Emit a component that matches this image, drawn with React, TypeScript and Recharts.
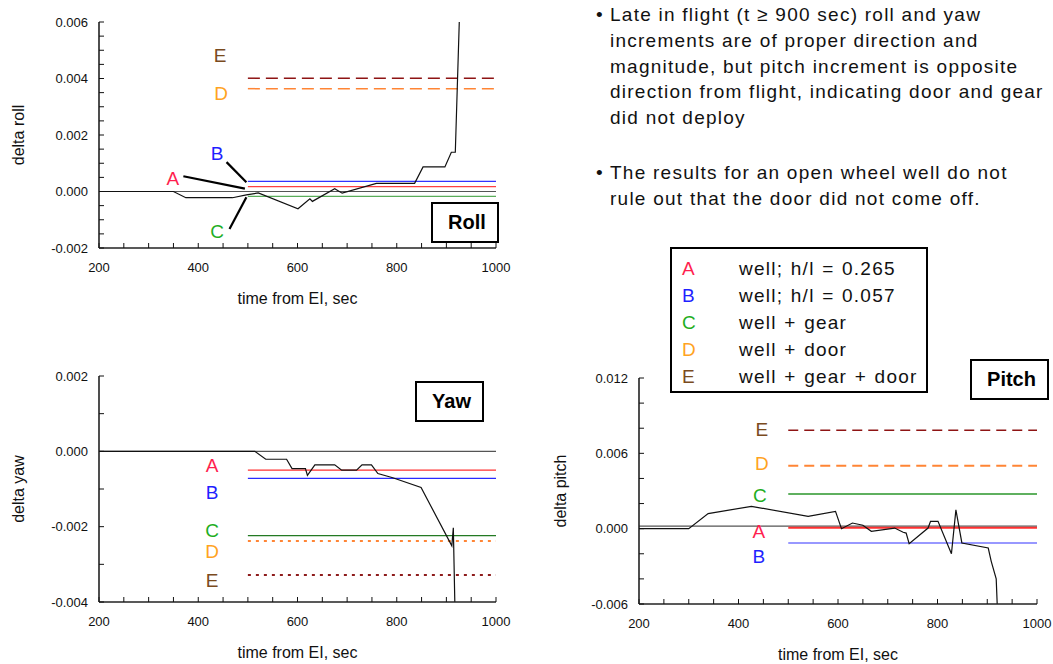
import React from 'react'
import { LineChart, Line, XAxis, YAxis, ReferenceLine, ReferenceDot, Label } from 'recharts'

const FONT = '"Liberation Sans", Arial, Helvetica, sans-serif'

// shared time axis: tick every 50 s, label every 200 s
const timeTicks = [200, 250, 300, 350, 400, 450, 500, 550, 600, 650, 700, 750, 800, 850, 900, 950, 1000]
const timeLabels = [200, 400, 600, 800, 1000]

// ---- roll ----
const rollTicks = [-0.002, -0.0015, -0.001, -0.0005, 0, 0.0005, 0.001, 0.0015, 0.002, 0.0025, 0.003, 0.0035, 0.004, 0.0045, 0.005, 0.0055, 0.006]
const rollLabels = [-0.002, 0, 0.002, 0.004, 0.006]
const rollFlight = [
  { x: 200, y: 0 }, { x: 350, y: 0 }, { x: 375, y: -0.00022 }, { x: 469, y: -0.00022 },
  { x: 497, y: -0.00012 }, { x: 521, y: -0.00005 }, { x: 601, y: -0.00061 }, { x: 625, y: -0.00026 },
  { x: 630, y: -0.00035 }, { x: 675, y: 0.0001 }, { x: 690, y: -0.00006 }, { x: 759, y: 0.00029 },
  { x: 836, y: 0.00029 }, { x: 853, y: 0.00087 }, { x: 897, y: 0.00087 }, { x: 910, y: 0.00139 },
  { x: 918, y: 0.00139 }, { x: 926, y: 0.006 },
]
const rollCases = [
  { key: 'A', y: 0.00017 }, { key: 'B', y: 0.00036 }, { key: 'C', y: -0.00017 },
  { key: 'D', y: 0.00364 }, { key: 'E', y: 0.00401 },
]
const rollLetters = [
  { key: 'E', x: 444, y: 0.00481 }, { key: 'D', x: 446, y: 0.00347 }, { key: 'B', x: 438, y: 0.00135 },
  { key: 'A', x: 349, y: 0.00046 }, { key: 'C', x: 438, y: -0.00142 },
]
const rollLeaders = [
  { from: { x: 457, y: 0.00104 }, to: { x: 497, y: 0.00033 } },
  { from: { x: 370, y: 0.00054 }, to: { x: 494, y: 0.0001 } },
  { from: { x: 463, y: -0.00133 }, to: { x: 497, y: -0.0002 } },
]

// ---- yaw ----
const yawTicks = [-0.004, -0.003, -0.002, -0.001, 0, 0.001, 0.002]
const yawLabels = [-0.004, -0.002, 0, 0.002]
const yawFlight = [
  { x: 200, y: 0 }, { x: 514, y: 0 }, { x: 536, y: -0.00021 }, { x: 578, y: -0.00021 },
  { x: 589, y: -0.00046 }, { x: 616, y: -0.00046 }, { x: 620, y: -0.00064 }, { x: 635, y: -0.00036 },
  { x: 675, y: -0.00036 }, { x: 689, y: -0.0005 }, { x: 719, y: -0.0005 }, { x: 730, y: -0.00036 },
  { x: 749, y: -0.00036 }, { x: 762, y: -0.00059 }, { x: 792, y: -0.0007 }, { x: 849, y: -0.00096 },
  { x: 911, y: -0.00251 }, { x: 914, y: -0.00203 }, { x: 917, y: -0.004 },
]
const yawCases = [
  { key: 'A', y: -0.0005 }, { key: 'B', y: -0.00072 }, { key: 'C', y: -0.00224 },
  { key: 'D', y: -0.00238 }, { key: 'E', y: -0.00328 },
]
const yawLetters = [
  { key: 'A', x: 428, y: -0.00037 }, { key: 'B', x: 428, y: -0.00109 }, { key: 'C', x: 428, y: -0.0021 },
  { key: 'D', x: 428, y: -0.00266 }, { key: 'E', x: 428, y: -0.00343 },
]

// ---- pitch ----
const pitchTicks = [-0.006, -0.004, -0.002, 0, 0.002, 0.004, 0.006, 0.008, 0.01, 0.012]
const pitchLabels = [-0.006, 0, 0.006, 0.012]
const pitchFlight = [
  { x: 200, y: 0 }, { x: 300, y: 0 }, { x: 339, y: 0.0012 }, { x: 426, y: 0.00178 },
  { x: 540, y: 0.00098 }, { x: 595, y: 0.00138 }, { x: 607, y: 0 }, { x: 629, y: 0.00045 },
  { x: 650, y: 0.00027 }, { x: 667, y: -0.00021 }, { x: 714, y: 0.00005 }, { x: 731, y: -0.00029 },
  { x: 737, y: -0.00035 }, { x: 743, y: -0.0012 }, { x: 781, y: 0.00005 }, { x: 786, y: 0.00058 },
  { x: 801, y: 0.00058 }, { x: 828, y: -0.002 }, { x: 837, y: 0.0015 }, { x: 849, y: -0.00114 },
  { x: 902, y: -0.00154 }, { x: 908, y: -0.0026 }, { x: 918, y: -0.004 }, { x: 920, y: -0.006 },
]
const pitchCases = [
  { key: 'A', y: 0.00008 }, { key: 'B', y: -0.00114 }, { key: 'C', y: 0.00276 },
  { key: 'D', y: 0.00502 }, { key: 'E', y: 0.00783 },
]
const pitchLetters = [
  { key: 'E', x: 447, y: 0.00789 }, { key: 'D', x: 447, y: 0.00518 }, { key: 'C', x: 443, y: 0.00263 },
  { key: 'A', x: 441, y: -0.00024 }, { key: 'B', x: 441, y: -0.00223 },
]

// legend + notes
const legendRows = [
  { key: 'A', text: 'well; h/l = 0.265' },
  { key: 'B', text: 'well; h/l = 0.057' },
  { key: 'C', text: 'well + gear' },
  { key: 'D', text: 'well + door' },
  { key: 'E', text: 'well + gear + door' },
]
const bulletOne = [
  'Late in flight (t \u2265 900 sec) roll and yaw',
  'increments are of proper direction and',
  'magnitude, but pitch increment is opposite',
  'direction from flight, indicating door and gear',
  'did not deploy',
]
const bulletTwo = [
  'The results for an open wheel well do not',
  'rule out that the door did not come off.',
]

const letterColor: Record<string, string> = {
  A: '#ff1f4f', B: '#1f1fff', C: '#1fae1f', D: '#ffa31f', E: '#7a4b1e',
}

type Pt = { x: number; y: number }
type CaseStyle = Record<string, { stroke: string; width: number; dash?: string }>

const rollStyle: CaseStyle = {
  A: { stroke: '#ff4040', width: 1.2 }, B: { stroke: '#3333ff', width: 1.2 }, C: { stroke: '#5aad5a', width: 1.2 },
  D: { stroke: '#ff8535', width: 1.5, dash: '12 6' }, E: { stroke: '#8e1414', width: 1.5, dash: '12 6' },
}
const yawStyle: CaseStyle = {
  A: { stroke: '#ff3030', width: 1.3 }, B: { stroke: '#2a2aff', width: 1.3 }, C: { stroke: '#237a23', width: 1.3 },
  D: { stroke: '#ff8535', width: 2, dash: '3 5' }, E: { stroke: '#8e1c1c', width: 2, dash: '3 5' },
}
const pitchStyle: CaseStyle = {
  A: { stroke: '#ff3030', width: 2 }, B: { stroke: '#3333ff', width: 1.2 }, C: { stroke: '#2a962a', width: 1.3 },
  D: { stroke: '#ff8535', width: 2, dash: '10 6' }, E: { stroke: '#8e1414', width: 1.5, dash: '10 6' },
}

function fmt(labels: number[]) {
  return (v: number) => (labels.includes(v) ? v.toFixed(3) : '')
}

interface PanelProps {
  box: { left: number; top: number; width: number; height: number }
  plot: { left: number; top: number; right: number; bottom: number }
  yDomain: [number, number]
  yTicks: number[]
  yLabels: number[]
  yTitle: string
  yTitleX: number
  zeroY: number
  flight: Pt[]
  cases: { key: string; y: number }[]
  style: CaseStyle
  letters: { key: string; x: number; y: number }[]
  leaders?: { from: Pt; to: Pt }[]
}

function Panel({ box, plot, yDomain, yTicks, yLabels, yTitle, yTitleX, zeroY, flight, cases, style, letters, leaders = [] }: PanelProps) {
  return (
    <div style={{ position: 'absolute', left: box.left, top: box.top }}>
      <LineChart
        width={box.width}
        height={box.height}
        margin={{ top: plot.top - box.top, right: box.left + box.width - plot.right, bottom: 0, left: 0 }}
      >
        <XAxis
          type="number"
          dataKey="x"
          domain={[200, 1000]}
          ticks={timeTicks}
          interval={0}
          allowDataOverflow
          tickFormatter={(v: number) => (timeLabels.includes(v) ? String(v) : '')}
          height={box.top + box.height - plot.bottom}
          tickSize={-5}
          tickMargin={20}
          axisLine={{ stroke: '#222', strokeWidth: 1.6 }}
          tickLine={{ stroke: '#111' }}
          tick={{ fontSize: 13, fill: '#111', fontFamily: FONT }}
        >
          <Label
            content={({ viewBox }: any) => (
              <text
                x={viewBox.x + viewBox.width / 2}
                y={viewBox.y + 50}
                textAnchor="middle"
                dominantBaseline="central"
                fontSize={16}
                fontFamily={FONT}
                fill="#111"
              >
                time from EI, sec
              </text>
            )}
          />
        </XAxis>
        <YAxis
          type="number"
          domain={yDomain}
          ticks={yTicks}
          interval={0}
          allowDataOverflow
          tickFormatter={fmt(yLabels)}
          width={plot.left - box.left}
          tickSize={-5}
          tickMargin={16}
          axisLine={{ stroke: '#222', strokeWidth: 1.6 }}
          tickLine={{ stroke: '#111' }}
          tick={{ fontSize: 13, fill: '#111', fontFamily: FONT }}
        >
          <Label
            content={({ viewBox }: any) => {
              const cx = viewBox.x + yTitleX
              const cy = viewBox.y + viewBox.height / 2
              return (
                <text
                  x={cx}
                  y={cy}
                  transform={`rotate(-90 ${cx} ${cy})`}
                  textAnchor="middle"
                  dominantBaseline="central"
                  fontSize={16}
                  fontFamily={FONT}
                  fill="#111"
                >
                  {yTitle}
                </text>
              )
            }}
          />
        </YAxis>

        <ReferenceLine y={zeroY} stroke="#555" strokeWidth={1.2} />

        {cases.map((c) => (
          <ReferenceLine
            key={c.key}
            segment={[{ x: 500, y: c.y }, { x: 1000, y: c.y }]}
            stroke={style[c.key].stroke}
            strokeWidth={style[c.key].width}
            strokeDasharray={style[c.key].dash}
          />
        ))}

        {leaders.map((l, i) => (
          <ReferenceLine key={i} segment={[l.from, l.to]} stroke="#000" strokeWidth={2.2} />
        ))}

        <Line
          data={flight}
          dataKey="y"
          type="linear"
          stroke="#111"
          strokeWidth={1.2}
          dot={false}
          isAnimationActive={false}
        />

        {letters.map((l) => (
          <ReferenceDot
            key={l.key}
            x={l.x}
            y={l.y}
            r={0}
            ifOverflow="visible"
            shape={(p: any) => (
              <text
                x={p.cx}
                y={p.cy}
                textAnchor="middle"
                dominantBaseline="central"
                fontSize={19}
                fontFamily={FONT}
                fill={letterColor[l.key]}
              >
                {l.key}
              </text>
            )}
          />
        ))}
      </LineChart>
    </div>
  )
}

function TitleBox({ left, top, width, height, text }: { left: number; top: number; width: number; height: number; text: string }) {
  return (
    <div
      style={{
        position: 'absolute', left, top, width, height, boxSizing: 'border-box',
        border: '2px solid #000', background: '#fff', display: 'flex', alignItems: 'center',
        justifyContent: 'center', fontFamily: FONT, fontWeight: 700, fontSize: 20, color: '#000',
        paddingLeft: 4,
      }}
    >
      {text}
    </div>
  )
}

const textStyle: React.CSSProperties = {
  fontFamily: FONT, fontSize: 19, letterSpacing: 1.25, color: '#111', lineHeight: '25.8px', whiteSpace: 'pre',
}

export default function App() {
  return (
    <div style={{ position: 'absolute', left: 0, top: 0, width: 1053, height: 664, background: '#fff', overflow: 'hidden' }}>
      <Panel
        box={{ left: 0, top: 0, width: 520, height: 320 }}
        plot={{ left: 99, top: 22, right: 496, bottom: 248 }}
        yDomain={[-0.002, 0.006]}
        yTicks={rollTicks}
        yLabels={rollLabels}
        yTitle="delta roll"
        yTitleX={18}
        zeroY={0}
        flight={rollFlight}
        cases={rollCases}
        style={rollStyle}
        letters={rollLetters}
        leaders={rollLeaders}
      />
      <TitleBox left={431} top={202} width={68} height={41} text="Roll" />

      <Panel
        box={{ left: 0, top: 360, width: 520, height: 304 }}
        plot={{ left: 99, top: 376, right: 496, bottom: 602 }}
        yDomain={[-0.004, 0.002]}
        yTicks={yawTicks}
        yLabels={yawLabels}
        yTitle="delta yaw"
        yTitleX={18}
        zeroY={0}
        flight={yawFlight}
        cases={yawCases}
        style={yawStyle}
        letters={yawLetters}
      />
      <TitleBox left={415} top={381} width={69} height={41} text="Yaw" />

      <Panel
        box={{ left: 540, top: 360, width: 513, height: 304 }}
        plot={{ left: 639, top: 378, right: 1037, bottom: 604 }}
        yDomain={[-0.006, 0.012]}
        yTicks={pitchTicks}
        yLabels={pitchLabels}
        yTitle="delta pitch"
        yTitleX={20}
        zeroY={0.0002}
        flight={pitchFlight}
        cases={pitchCases}
        style={pitchStyle}
        letters={pitchLetters}
      />
      <TitleBox left={970} top={359} width={79} height={41} text="Pitch" />

      {/* legend */}
      <div
        style={{
          position: 'absolute', left: 670, top: 247, width: 258, height: 146, boxSizing: 'border-box',
          border: '2px solid #000', background: '#fff', paddingTop: 5.5,
        }}
      >
        {legendRows.map((r) => (
          <div key={r.key} style={{ ...textStyle, height: 27, lineHeight: '27px', position: 'relative' }}>
            <span style={{ position: 'absolute', left: 10, color: letterColor[r.key], letterSpacing: 0 }}>{r.key}</span>
            <span style={{ position: 'absolute', left: 67, wordSpacing: 1 }}>{r.text}</span>
          </div>
        ))}
      </div>

      {/* notes */}
      <div style={{ position: 'absolute', left: 596, top: 2, ...textStyle }}>
        {bulletOne.map((t, i) => (
          <div key={i} style={{ paddingLeft: 14, position: 'relative' }}>
            {i === 0 && <span style={{ position: 'absolute', left: 0 }}>{'\u2022'}</span>}
            {t}
          </div>
        ))}
      </div>
      <div style={{ position: 'absolute', left: 596, top: 160, ...textStyle }}>
        {bulletTwo.map((t, i) => (
          <div key={i} style={{ paddingLeft: 14, position: 'relative' }}>
            {i === 0 && <span style={{ position: 'absolute', left: 0 }}>{'\u2022'}</span>}
            {t}
          </div>
        ))}
      </div>
    </div>
  )
}
